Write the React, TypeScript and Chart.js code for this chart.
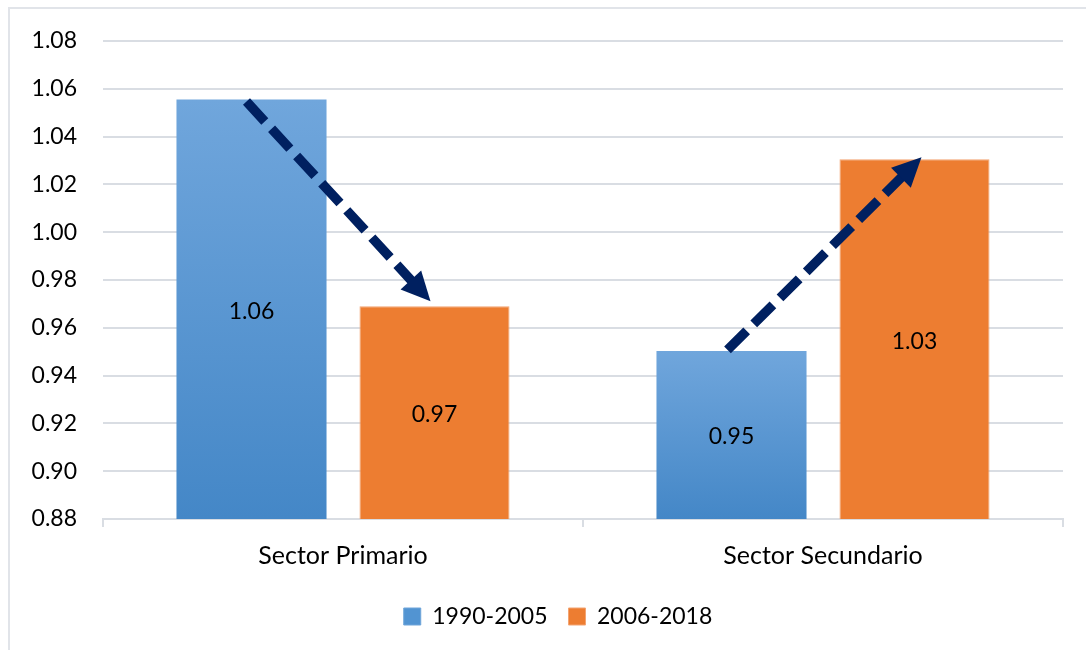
import React, { useEffect, useRef } from "react";
import { Chart, registerables } from "chart.js";
Chart.register(...registerables);

// ---- data ----
const categories = ["Sector Primario", "Sector Secundario"];
const seriesNames = ["1990-2005", "2006-2018"];
const valuesEarly = [1.0555, 0.9503];
const valuesLate = [0.969, 1.0305];
const yMin = 0.88;
const yMax = 1.08;
const yStep = 0.02;
// arrows: from series 0 bar top to series 1 bar top, per category
const arrowCategories = [0, 1];

// ---- style ----
const FONT = "Lato";
const FS = 23;
const GRID = "#d9dde3";
const FRAME = "#e1e4e9";
const NAVY = "#002060";
const ORANGE = "#ed7d31";
const BLUE_TOP = "#70a6dc";
const BLUE_BOT = "#4487c7";
const arrowNudges = [
  { sx: -5, sy: 2, ex: -4, ey: -5 },
  { sx: -4, sy: -1, ex: 7, ey: -2 },
];

const framePlugin = {
  id: "frame",
  beforeDraw(chart: any) {
    const ctx = chart.ctx;
    ctx.save();
    ctx.fillStyle = "#ffffff";
    ctx.fillRect(0, 0, chart.width, chart.height);
    ctx.strokeStyle = FRAME;
    ctx.lineWidth = 2;
    ctx.beginPath();
    ctx.moveTo(9, chart.height);
    ctx.lineTo(9, 8);
    ctx.lineTo(chart.width, 8);
    ctx.stroke();
    ctx.restore();
  },
};

// let the y-axis labels extend into the left padding (avoid clipping)
const unclipPlugin = {
  id: "unclipY",
  afterLayout(chart: any) {
    if (chart.scales.y) chart.scales.y.left = 0;
  },
};

const labelPlugin = {
  id: "valueLabels",
  afterDatasetsDraw(chart: any) {
    const ctx = chart.ctx;
    const ys = chart.scales.y;
    const base = ys.getPixelForValue(yMin);
    ctx.save();
    ctx.font = `${FS}px ${FONT}`;
    ctx.fillStyle = "#000000";
    ctx.textAlign = "center";
    ctx.textBaseline = "middle";
    const all = [valuesEarly, valuesLate];
    all.forEach((vals, di) => {
      const meta = chart.getDatasetMeta(di);
      vals.forEach((v, i) => {
        const el = meta.data[i];
        if (!el) return;
        const top = ys.getPixelForValue(v);
        const mid = (top + base) / 2;
        ctx.fillText(v.toFixed(2), el.x, mid + 2);
      });
    });
    ctx.restore();
  },
};

const arrowPlugin = {
  id: "arrows",
  afterDatasetsDraw(chart: any) {
    const ctx = chart.ctx;
    const m0 = chart.getDatasetMeta(0);
    const m1 = chart.getDatasetMeta(1);
    arrowCategories.forEach((ci, k) => {
      const a = m0.data[ci];
      const b = m1.data[ci];
      const n = arrowNudges[k];
      const sx = a.x + n.sx, sy = a.y + n.sy;
      const ex = b.x + n.ex, ey = b.y + n.ey;
      const ang = Math.atan2(ey - sy, ex - sx);
      const headLen = 29;
      const headHalf = 14;
      const bx = ex - Math.cos(ang) * headLen;
      const by = ey - Math.sin(ang) * headLen;
      ctx.save();
      ctx.strokeStyle = NAVY;
      ctx.fillStyle = NAVY;
      ctx.lineWidth = 9.5;
      ctx.lineCap = "butt";
      ctx.setLineDash([27, 10]);
      ctx.beginPath();
      ctx.moveTo(sx, sy);
      ctx.lineTo(bx + Math.cos(ang) * 2, by + Math.sin(ang) * 2);
      ctx.stroke();
      ctx.setLineDash([]);
      ctx.beginPath();
      ctx.moveTo(ex, ey);
      ctx.lineTo(bx + Math.cos(ang + Math.PI / 2) * headHalf, by + Math.sin(ang + Math.PI / 2) * headHalf);
      ctx.lineTo(bx - Math.cos(ang + Math.PI / 2) * headHalf, by - Math.sin(ang + Math.PI / 2) * headHalf);
      ctx.closePath();
      ctx.fill();
      ctx.restore();
    });
  },
};

function blueGradient(context: any) {
  const chart = context.chart;
  if (!chart.chartArea || context.parsed == null) return BLUE_BOT;
  const ys = chart.scales.y;
  const top = ys.getPixelForValue(context.parsed.y);
  const bot = ys.getPixelForValue(yMin);
  if (!isFinite(top) || !isFinite(bot) || top === bot) return BLUE_BOT;
  const g = chart.ctx.createLinearGradient(0, top, 0, bot);
  g.addColorStop(0, BLUE_TOP);
  g.addColorStop(1, BLUE_BOT);
  return g;
}

export default function App() {
  const ref = useRef<HTMLCanvasElement>(null);
  useEffect(() => {
    if (!ref.current) return;
    const chart = new Chart(ref.current, {
      type: "bar",
      data: {
        labels: categories,
        datasets: [
          {
            label: seriesNames[0],
            data: valuesEarly,
            backgroundColor: blueGradient as any,
            borderWidth: 0,
            categoryPercentage: 0.7625,
            barPercentage: 0.82,
          },
          {
            label: seriesNames[1],
            data: valuesLate,
            backgroundColor: ORANGE,
            borderColor: "#f3a472",
            borderWidth: 1,
            categoryPercentage: 0.7625,
            barPercentage: 0.82,
          },
        ],
      },
      options: {
        responsive: false,
        animation: false,
        layout: { padding: { top: 41, right: 23, left: 53, bottom: 12 } },
        plugins: {
          tooltip: { enabled: false },
          legend: {
            position: "bottom",
            labels: {
              font: { family: FONT, size: FS },
              color: "#000",
              boxWidth: 17,
              boxHeight: 17,
              padding: 21,
              generateLabels: (chart: any) =>
                chart.data.datasets.map((ds: any, i: number) => ({
                  text: ds.label,
                  fillStyle: i === 0 ? "#5294d2" : ORANGE,
                  strokeStyle: i === 0 ? "#6fa5da" : "#f3a472",
                  lineWidth: 1,
                  hidden: false,
                  datasetIndex: i,
                  fontColor: "#000",
                })),
            },
          },
        },
        scales: {
          x: {
            grid: {
              display: true,
              drawOnChartArea: false,
              drawTicks: true,
              tickLength: 8,
              color: GRID,
              lineWidth: 2,
              offset: true,
            },
            border: { display: true, color: GRID, width: 2 },
            ticks: {
              font: { family: FONT, size: 25 },
              color: "#000",
              padding: 14,
            },
            afterFit: (s: any) => {
              s.height = 65;
            },
          },
          y: {
            min: yMin,
            max: yMax,
            grid: { color: GRID, lineWidth: 2, drawTicks: false },
            border: { display: false },
            ticks: {
              stepSize: yStep,
              font: { family: FONT, size: FS },
              color: "#000",
              padding: 26,
              callback: (v: any) => Number(v).toFixed(2),
            },
            afterFit: (s: any) => {
              s.width = 50;
            },
          },
        },
      },
      plugins: [framePlugin, unclipPlugin, labelPlugin, arrowPlugin],
    });
    return () => chart.destroy();
  }, []);
  return (
    <div style={{ position: "absolute", left: 0, top: 0, width: 1086, height: 650, overflow: "hidden" }}>
      <canvas ref={ref} width={1086} height={650} style={{ display: "block" }} />
    </div>
  );
}
